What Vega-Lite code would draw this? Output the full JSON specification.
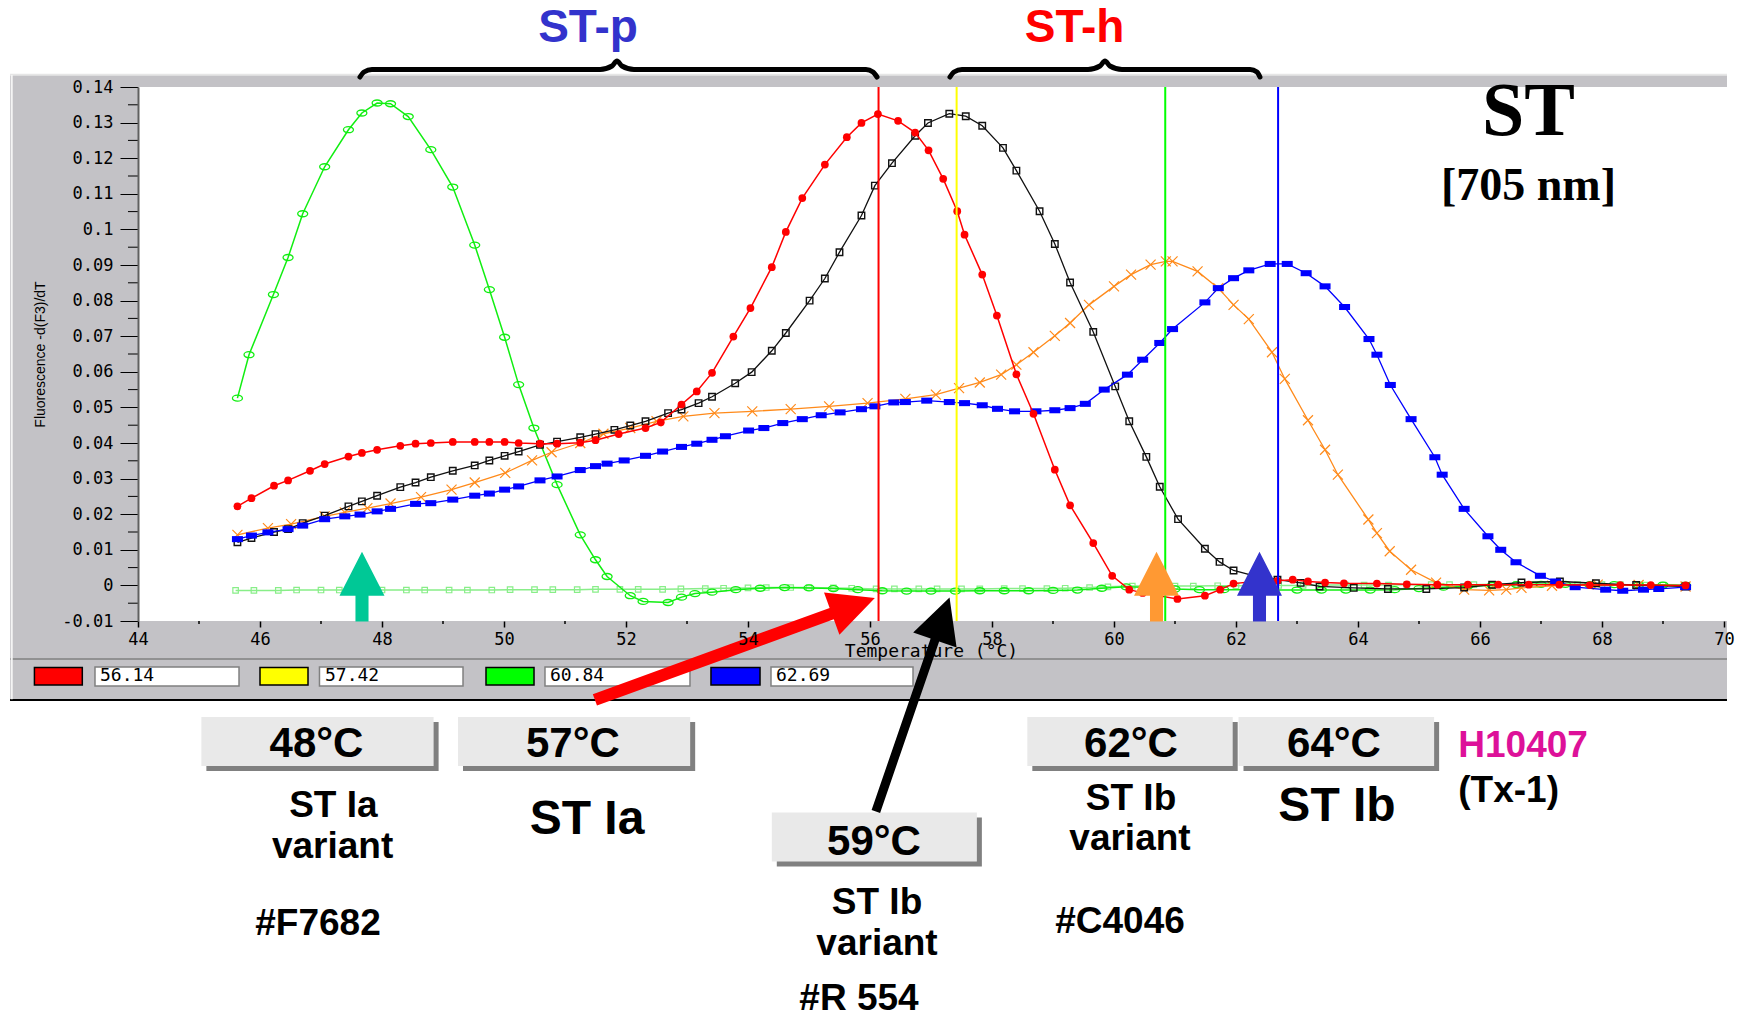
{
"$schema":"https://vega.github.io/schema/vega-lite/v6.json",
"width":1586,"height":534,
"autosize":{"type":"none"},
"padding":{"left":138,"top":87,"right":14,"bottom":396},
"background":"#ffffff",
"config":{"view":{"stroke":null}},
"datasets":{
"green":[{"t":45.63,"f":0.0526},{"t":45.82,"f":0.0648},{"t":46.22,"f":0.0817},{"t":46.46,"f":0.0921},{"t":46.7,"f":0.1044},{"t":47.06,"f":0.1176},{"t":47.45,"f":0.128},{"t":47.67,"f":0.1327},{"t":47.92,"f":0.1355},{"t":48.14,"f":0.1353},{"t":48.43,"f":0.1317},{"t":48.8,"f":0.1224},{"t":49.16,"f":0.1119},{"t":49.52,"f":0.0956},{"t":49.76,"f":0.0831},{"t":50.01,"f":0.0697},{"t":50.24,"f":0.0564},{"t":50.49,"f":0.0442},{"t":50.87,"f":0.0283},{"t":51.25,"f":0.0142},{"t":51.5,"f":0.0072},{"t":51.69,"f":0.0025},{"t":52.07,"f":-0.0029},{"t":52.28,"f":-0.0045},{"t":52.69,"f":-0.0048},{"t":52.91,"f":-0.0033},{"t":53.13,"f":-0.0023},{"t":53.41,"f":-0.0019},{"t":53.8,"f":-0.0012},{"t":54.2,"f":-0.0008},{"t":54.6,"f":-0.0006},{"t":55.0,"f":-0.0007},{"t":55.4,"f":-0.0009},{"t":55.8,"f":-0.0012},{"t":56.2,"f":-0.0015},{"t":56.6,"f":-0.0016},{"t":57.0,"f":-0.0016},{"t":57.4,"f":-0.0016},{"t":57.8,"f":-0.0015},{"t":58.2,"f":-0.0015},{"t":58.6,"f":-0.0015},{"t":59.0,"f":-0.0014},{"t":59.4,"f":-0.0013},{"t":59.8,"f":-0.0008},{"t":60.2,"f":-0.0004},{"t":60.6,"f":-0.0006},{"t":61.0,"f":-0.001},{"t":61.4,"f":-0.0012},{"t":61.8,"f":-0.0012},{"t":62.2,"f":-0.0012},{"t":62.6,"f":-0.0013},{"t":63.0,"f":-0.0013},{"t":63.4,"f":-0.0013},{"t":63.8,"f":-0.0013},{"t":64.2,"f":-0.0013},{"t":64.6,"f":-0.0012},{"t":65.0,"f":-0.0009},{"t":65.4,"f":-0.0005},{"t":65.8,"f":-0.0002},{"t":66.2,"f":0.0},{"t":66.6,"f":0.0002},{"t":67.0,"f":0.0003},{"t":67.4,"f":0.0003},{"t":67.8,"f":0.0002},{"t":68.2,"f":0.0002},{"t":68.6,"f":0.0001},{"t":69.0,"f":0.0001},{"t":69.37,"f":0.0}],
"base":[{"t":45.6,"f":-0.0014},{"t":45.9,"f":-0.0014},{"t":46.3,"f":-0.0014},{"t":46.6,"f":-0.0013},{"t":47.0,"f":-0.0013},{"t":47.3,"f":-0.0013},{"t":47.7,"f":-0.0013},{"t":48.0,"f":-0.0013},{"t":48.4,"f":-0.0013},{"t":48.7,"f":-0.0013},{"t":49.1,"f":-0.0013},{"t":49.4,"f":-0.0013},{"t":49.8,"f":-0.0013},{"t":50.1,"f":-0.0012},{"t":50.5,"f":-0.0012},{"t":50.8,"f":-0.0012},{"t":51.2,"f":-0.0012},{"t":51.5,"f":-0.0011},{"t":51.9,"f":-0.0011},{"t":52.2,"f":-0.0011},{"t":52.6,"f":-0.0011},{"t":52.9,"f":-0.001},{"t":53.3,"f":-0.0009},{"t":53.6,"f":-0.0008},{"t":54.0,"f":-0.0007},{"t":54.3,"f":-0.0006},{"t":54.7,"f":-0.0006},{"t":55.0,"f":-0.0006},{"t":55.4,"f":-0.0007},{"t":55.7,"f":-0.0008},{"t":56.1,"f":-0.001},{"t":56.4,"f":-0.001},{"t":56.8,"f":-0.001},{"t":57.1,"f":-0.001},{"t":57.5,"f":-0.001},{"t":57.8,"f":-0.001},{"t":58.2,"f":-0.0009},{"t":58.5,"f":-0.0009},{"t":58.9,"f":-0.0009},{"t":59.2,"f":-0.0008},{"t":59.6,"f":-0.0006},{"t":59.9,"f":-0.0004},{"t":60.3,"f":-0.0002},{"t":60.6,"f":-0.0002},{"t":61.0,"f":-0.0002},{"t":61.3,"f":-0.0002},{"t":61.7,"f":-0.0001},{"t":62.0,"f":-0.0001},{"t":62.4,"f":0.0},{"t":62.7,"f":0.0},{"t":63.1,"f":0.0},{"t":63.4,"f":0.0001},{"t":63.8,"f":0.0001},{"t":64.1,"f":0.0001},{"t":64.5,"f":0.0001},{"t":64.8,"f":0.0002},{"t":65.2,"f":0.0002},{"t":65.5,"f":0.0002},{"t":65.9,"f":0.0002},{"t":66.2,"f":0.0003},{"t":66.6,"f":0.0003},{"t":66.9,"f":0.0003},{"t":67.3,"f":0.0003},{"t":67.6,"f":0.0002},{"t":68.0,"f":0.0002},{"t":68.3,"f":0.0002},{"t":68.7,"f":0.0001},{"t":69.0,"f":0.0001},{"t":69.35,"f":0.0001}],
"red":[{"t":45.63,"f":0.0222},{"t":45.86,"f":0.0245},{"t":46.23,"f":0.028},{"t":46.46,"f":0.0295},{"t":46.82,"f":0.0322},{"t":47.06,"f":0.0341},{"t":47.45,"f":0.0362},{"t":47.67,"f":0.0372},{"t":47.92,"f":0.0381},{"t":48.3,"f":0.0392},{"t":48.55,"f":0.0398},{"t":48.8,"f":0.04},{"t":49.16,"f":0.0403},{"t":49.52,"f":0.0403},{"t":49.76,"f":0.0403},{"t":50.01,"f":0.0403},{"t":50.24,"f":0.04},{"t":50.59,"f":0.0398},{"t":50.87,"f":0.0398},{"t":51.25,"f":0.0401},{"t":51.5,"f":0.0408},{"t":51.88,"f":0.0425},{"t":52.32,"f":0.0442},{"t":52.57,"f":0.0458},{"t":52.91,"f":0.0508},{"t":53.16,"f":0.0545},{"t":53.41,"f":0.0597},{"t":53.76,"f":0.0699},{"t":54.04,"f":0.0779},{"t":54.39,"f":0.0894},{"t":54.62,"f":0.0993},{"t":54.89,"f":0.1088},{"t":55.26,"f":0.1182},{"t":55.62,"f":0.1259},{"t":55.86,"f":0.1299},{"t":56.13,"f":0.1324},{"t":56.46,"f":0.1305},{"t":56.74,"f":0.1272},{"t":56.96,"f":0.1222},{"t":57.2,"f":0.1142},{"t":57.43,"f":0.1051},{"t":57.55,"f":0.0985},{"t":57.84,"f":0.0873},{"t":58.08,"f":0.0758},{"t":58.4,"f":0.0593},{"t":58.68,"f":0.0482},{"t":59.03,"f":0.0325},{"t":59.28,"f":0.0225},{"t":59.66,"f":0.0119},{"t":59.97,"f":0.0027},{"t":60.25,"f":-0.0012},{"t":60.47,"f":-0.0021},{"t":61.04,"f":-0.0038},{"t":61.49,"f":-0.0029},{"t":61.74,"f":-0.0012},{"t":61.96,"f":0.0005},{"t":62.3,"f":0.0011},{"t":62.68,"f":0.0013},{"t":62.93,"f":0.0016},{"t":63.18,"f":0.0011},{"t":63.46,"f":0.0008},{"t":63.77,"f":0.0006},{"t":64.31,"f":0.0005},{"t":64.8,"f":0.0003},{"t":65.3,"f":0.0002},{"t":65.8,"f":0.0002},{"t":66.3,"f":0.0002},{"t":66.8,"f":0.0002},{"t":67.3,"f":0.0002},{"t":67.8,"f":0.0001},{"t":68.3,"f":0.0001},{"t":68.8,"f":0.0001},{"t":69.37,"f":0.0}],
"black":[{"t":45.63,"f":0.0121},{"t":45.86,"f":0.0133},{"t":46.23,"f":0.015},{"t":46.46,"f":0.0158},{"t":46.7,"f":0.0175},{"t":47.06,"f":0.0196},{"t":47.45,"f":0.0222},{"t":47.67,"f":0.0236},{"t":47.92,"f":0.0252},{"t":48.3,"f":0.0276},{"t":48.55,"f":0.0289},{"t":48.8,"f":0.0304},{"t":49.16,"f":0.0322},{"t":49.52,"f":0.0337},{"t":49.76,"f":0.0351},{"t":50.01,"f":0.0364},{"t":50.24,"f":0.0376},{"t":50.59,"f":0.0395},{"t":50.87,"f":0.0404},{"t":51.25,"f":0.0416},{"t":51.5,"f":0.0425},{"t":51.81,"f":0.0437},{"t":52.07,"f":0.0449},{"t":52.32,"f":0.0461},{"t":52.69,"f":0.0484},{"t":52.91,"f":0.0494},{"t":53.19,"f":0.0512},{"t":53.41,"f":0.053},{"t":53.79,"f":0.0568},{"t":54.06,"f":0.0599},{"t":54.39,"f":0.0659},{"t":54.62,"f":0.0709},{"t":55.01,"f":0.08},{"t":55.26,"f":0.0862},{"t":55.5,"f":0.0936},{"t":55.86,"f":0.1039},{"t":56.08,"f":0.1123},{"t":56.36,"f":0.1186},{"t":56.74,"f":0.1263},{"t":56.95,"f":0.1299},{"t":57.3,"f":0.1325},{"t":57.57,"f":0.1318},{"t":57.84,"f":0.1291},{"t":58.18,"f":0.1229},{"t":58.4,"f":0.1165},{"t":58.78,"f":0.1051},{"t":59.03,"f":0.0959},{"t":59.28,"f":0.0851},{"t":59.66,"f":0.0712},{"t":60.02,"f":0.0559},{"t":60.25,"f":0.0461},{"t":60.53,"f":0.0361},{"t":60.75,"f":0.0277},{"t":61.05,"f":0.0186},{"t":61.49,"f":0.0103},{"t":61.73,"f":0.0066},{"t":61.96,"f":0.0042},{"t":62.3,"f":0.0027},{"t":62.68,"f":0.0016},{"t":63.06,"f":0.0007},{"t":63.37,"f":-0.0003},{"t":63.93,"f":-0.0007},{"t":64.49,"f":-0.001},{"t":65.12,"f":-0.001},{"t":65.74,"f":-0.0006},{"t":66.2,"f":0.0002},{"t":66.68,"f":0.0008},{"t":67.31,"f":0.0011},{"t":67.9,"f":0.0006},{"t":68.56,"f":0.0001},{"t":69.37,"f":-0.0003}],
"orange":[{"t":45.63,"f":0.0142},{"t":46.13,"f":0.0161},{"t":46.51,"f":0.0172},{"t":47.06,"f":0.0194},{"t":47.39,"f":0.0205},{"t":47.76,"f":0.0217},{"t":48.14,"f":0.023},{"t":48.64,"f":0.0248},{"t":49.14,"f":0.0269},{"t":49.52,"f":0.0289},{"t":50.02,"f":0.0316},{"t":50.46,"f":0.0351},{"t":50.78,"f":0.0374},{"t":51.25,"f":0.04},{"t":51.63,"f":0.0426},{"t":52.07,"f":0.0442},{"t":52.5,"f":0.0461},{"t":52.94,"f":0.0475},{"t":53.45,"f":0.0484},{"t":54.07,"f":0.0489},{"t":54.7,"f":0.0495},{"t":55.33,"f":0.0503},{"t":55.96,"f":0.0512},{"t":56.58,"f":0.0524},{"t":57.08,"f":0.0536},{"t":57.46,"f":0.0554},{"t":57.8,"f":0.057},{"t":58.15,"f":0.0592},{"t":58.4,"f":0.062},{"t":58.68,"f":0.0655},{"t":59.03,"f":0.0701},{"t":59.28,"f":0.0737},{"t":59.59,"f":0.0788},{"t":60.0,"f":0.084},{"t":60.28,"f":0.0873},{"t":60.6,"f":0.0901},{"t":60.85,"f":0.091},{"t":60.96,"f":0.091},{"t":61.37,"f":0.0882},{"t":61.71,"f":0.0835},{"t":61.96,"f":0.0788},{"t":62.21,"f":0.0748},{"t":62.59,"f":0.0655},{"t":62.8,"f":0.058},{"t":63.18,"f":0.0464},{"t":63.46,"f":0.0381},{"t":63.67,"f":0.0311},{"t":64.17,"f":0.0185},{"t":64.31,"f":0.0147},{"t":64.52,"f":0.0096},{"t":64.87,"f":0.0044},{"t":65.28,"f":0.0008},{"t":65.74,"f":-0.0012},{"t":66.15,"f":-0.0014},{"t":66.43,"f":-0.0012},{"t":66.68,"f":-0.0007},{"t":67.18,"f":-0.0001},{"t":67.93,"f":0.0002},{"t":68.6,"f":0.0001},{"t":69.37,"f":-0.0003}],
"blue":[{"t":45.63,"f":0.013},{"t":45.86,"f":0.014},{"t":46.13,"f":0.0149},{"t":46.46,"f":0.0158},{"t":46.7,"f":0.0168},{"t":47.06,"f":0.0186},{"t":47.39,"f":0.0194},{"t":47.64,"f":0.0199},{"t":47.92,"f":0.0208},{"t":48.14,"f":0.0215},{"t":48.55,"f":0.0229},{"t":48.8,"f":0.0231},{"t":49.16,"f":0.0241},{"t":49.52,"f":0.0252},{"t":49.76,"f":0.0258},{"t":50.01,"f":0.0269},{"t":50.24,"f":0.0278},{"t":50.59,"f":0.0295},{"t":50.87,"f":0.0306},{"t":51.25,"f":0.0324},{"t":51.5,"f":0.0335},{"t":51.69,"f":0.0342},{"t":51.97,"f":0.0351},{"t":52.32,"f":0.0364},{"t":52.6,"f":0.0376},{"t":52.91,"f":0.0389},{"t":53.16,"f":0.0398},{"t":53.41,"f":0.0409},{"t":53.63,"f":0.0419},{"t":54.01,"f":0.0435},{"t":54.26,"f":0.0442},{"t":54.57,"f":0.0456},{"t":54.89,"f":0.0467},{"t":55.2,"f":0.0478},{"t":55.51,"f":0.0486},{"t":55.86,"f":0.0495},{"t":56.08,"f":0.0503},{"t":56.39,"f":0.0514},{"t":56.58,"f":0.0515},{"t":56.93,"f":0.0519},{"t":57.3,"f":0.0515},{"t":57.55,"f":0.0512},{"t":57.84,"f":0.0506},{"t":58.09,"f":0.0496},{"t":58.37,"f":0.0489},{"t":58.72,"f":0.0489},{"t":59.03,"f":0.0492},{"t":59.28,"f":0.0498},{"t":59.53,"f":0.051},{"t":59.84,"f":0.055},{"t":60.22,"f":0.0592},{"t":60.47,"f":0.0634},{"t":60.75,"f":0.0681},{"t":60.96,"f":0.072},{"t":61.49,"f":0.0795},{"t":61.71,"f":0.0835},{"t":61.96,"f":0.0863},{"t":62.21,"f":0.0885},{"t":62.56,"f":0.0903},{"t":62.84,"f":0.0903},{"t":63.15,"f":0.0877},{"t":63.46,"f":0.084},{"t":63.78,"f":0.0782},{"t":64.18,"f":0.0692},{"t":64.31,"f":0.0648},{"t":64.53,"f":0.0563},{"t":64.87,"f":0.0467},{"t":65.26,"f":0.036},{"t":65.38,"f":0.0311},{"t":65.74,"f":0.0215},{"t":66.13,"f":0.0138},{"t":66.34,"f":0.01},{"t":66.59,"f":0.0065},{"t":66.99,"f":0.0027},{"t":67.24,"f":0.0011},{"t":67.56,"f":-0.0005},{"t":68.06,"f":-0.0012},{"t":68.34,"f":-0.0015},{"t":68.68,"f":-0.0012},{"t":68.93,"f":-0.001},{"t":69.37,"f":-0.0005}],
"tms":[{"tm":56.14,"t":42.302,"t2":43.087,"tb":43.295,"tb2":45.656,"tl":43.377,"f":-0.02306},{"tm":57.42,"t":46.0,"t2":46.787,"tb":46.975,"tb2":49.328,"tl":47.066,"f":-0.02306},{"tm":60.84,"t":49.705,"t2":50.492,"tb":50.672,"tb2":53.049,"tl":50.754,"f":-0.02306},{"tm":62.69,"t":53.393,"t2":54.197,"tb":54.377,"tb2":56.705,"tl":54.459,"f":-0.02306}],
"boxes":[{"t":45.039,"t2":48.846,"f":-0.03694,"f2":-0.0507},{"t":49.246,"t2":53.052,"f":-0.03694,"f2":-0.0507},{"t":54.39,"t2":57.752,"f":-0.06379,"f2":-0.07756},{"t":58.579,"t2":61.946,"f":-0.03694,"f2":-0.0507},{"t":62.041,"t2":65.248,"f":-0.03694,"f2":-0.0507}],
"braces":[{"b":"p","t":47.639,"f":0.14281},{"b":"p","t":47.705,"f":0.14421},{"b":"p","t":47.836,"f":0.14492},{"b":"p","t":51.574,"f":0.14492},{"b":"p","t":51.77,"f":0.1459},{"b":"p","t":51.852,"f":0.1473},{"b":"p","t":51.934,"f":0.1459},{"b":"p","t":52.131,"f":0.14492},{"b":"p","t":55.934,"f":0.14492},{"b":"p","t":56.049,"f":0.14421},{"b":"p","t":56.115,"f":0.14281},{"b":"h","t":57.311,"f":0.14281},{"b":"h","t":57.377,"f":0.14421},{"b":"h","t":57.508,"f":0.14492},{"b":"h","t":59.574,"f":0.14492},{"b":"h","t":59.77,"f":0.1459},{"b":"h","t":59.852,"f":0.1473},{"b":"h","t":59.934,"f":0.1459},{"b":"h","t":60.131,"f":0.14492},{"b":"h","t":62.23,"f":0.14492},{"b":"h","t":62.344,"f":0.14421},{"b":"h","t":62.393,"f":0.14281}]
},
"encoding":{
"x":{"field":"t","type":"quantitative","scale":{"domain":[44,70],"nice":false,"zero":false},
"axis":{"title":"Temperature (°C)","values":[44,46,48,50,52,54,56,58,60,62,64,66,68,70],"labelExpr":"'' + datum.value","labelFlush":false,"labelOverlap":false,"labelFont":"DejaVu Sans Mono","labelFontSize":17,"labelColor":"#000000","labelPadding":4,"tickColor":"#000000","tickSize":6,"tickWidth":1.5,"domain":false,"grid":false,"titleFont":"DejaVu Sans Mono","titleFontSize":18,"titleFontWeight":"normal","titleColor":"#000000","titlePadding":-5,"zindex":1}},
"y":{"field":"f","type":"quantitative","scale":{"domain":[-0.01,0.14],"nice":false,"zero":false},
"axis":{"title":"Fluorescence -d(F3)/dT","values":[-0.01,0,0.01,0.02,0.03,0.04,0.05,0.06,0.07,0.08,0.09,0.1,0.11,0.12,0.13,0.14],"labelExpr":"'' + round(datum.value*100)/100","labelFlush":false,"labelOverlap":false,"labelFont":"DejaVu Sans Mono","labelFontSize":17,"labelColor":"#000000","labelPadding":7,"tickColor":"#000000","tickSize":18,"tickWidth":1,"domain":true,"domainColor":"#606060","domainWidth":2,"grid":false,"titleFont":"Liberation Sans Narrow, Liberation Sans, sans-serif","titleFontSize":14,"titleFontWeight":"normal","titleColor":"#000000","titlePadding":14,"zindex":1}}
},
"layer":[
{"data":{"values":[{"t":41.902,"t2":70.049,"f":0.14346,"f2":-0.03219}]},"mark":{"type":"rect","color":"#c3c2c6"},"encoding":{"x2":{"field":"t2"},"y2":{"field":"f2"}}},
{"data":{"values":[{"t":44,"t2":70.049,"f":0.14,"f2":-0.01}]},"mark":{"type":"rect","color":"#ffffff"},"encoding":{"x2":{"field":"t2"},"y2":{"field":"f2"}}},
{"data":{"values":[{"t":41.902,"t2":70.049,"f":0.14346}]},"mark":{"type":"rule","color":"#e6e6e6","strokeWidth":2},"encoding":{"x2":{"field":"t2"}}},
{"data":{"values":[{"t":41.902,"t2":70.049,"f":-0.02067}]},"mark":{"type":"rule","color":"#808080","strokeWidth":1.5},"encoding":{"x2":{"field":"t2"}}},
{"data":{"values":[{"t":41.902,"t2":70.049,"f":-0.03219}]},"mark":{"type":"rule","color":"#000000","strokeWidth":2},"encoding":{"x2":{"field":"t2"}}},
{"data":{"values":[{"t":41.93,"f":0.1434,"f2":-0.032}]},"mark":{"type":"rule","color":"#f4f4f4","strokeWidth":2},"encoding":{"y2":{"field":"f2"}}},
{"data":{"values":[{"t":43.836,"t2":44,"f":-0.005},{"t":43.836,"t2":44,"f":0.005},{"t":43.836,"t2":44,"f":0.015},{"t":43.836,"t2":44,"f":0.025},{"t":43.836,"t2":44,"f":0.035},{"t":43.836,"t2":44,"f":0.045},{"t":43.836,"t2":44,"f":0.055},{"t":43.836,"t2":44,"f":0.065},{"t":43.836,"t2":44,"f":0.075},{"t":43.836,"t2":44,"f":0.085},{"t":43.836,"t2":44,"f":0.095},{"t":43.836,"t2":44,"f":0.105},{"t":43.836,"t2":44,"f":0.115},{"t":43.836,"t2":44,"f":0.125},{"t":43.836,"t2":44,"f":0.135}]},"mark":{"type":"rule","color":"#000000","strokeWidth":1},"encoding":{"x2":{"field":"t2"}}},
{"data":{"values":[{"t":45,"f":-0.01,"f2":-0.01084},{"t":47,"f":-0.01,"f2":-0.01084},{"t":49,"f":-0.01,"f2":-0.01084},{"t":51,"f":-0.01,"f2":-0.01084},{"t":53,"f":-0.01,"f2":-0.01084},{"t":55,"f":-0.01,"f2":-0.01084},{"t":57,"f":-0.01,"f2":-0.01084},{"t":59,"f":-0.01,"f2":-0.01084},{"t":61,"f":-0.01,"f2":-0.01084},{"t":63,"f":-0.01,"f2":-0.01084},{"t":65,"f":-0.01,"f2":-0.01084},{"t":67,"f":-0.01,"f2":-0.01084},{"t":69,"f":-0.01,"f2":-0.01084}]},"mark":{"type":"rule","color":"#000000","strokeWidth":1.5},"encoding":{"y2":{"field":"f2"}}},
{"data":{"name":"tms"},"mark":{"type":"rect","stroke":"#000000","strokeWidth":1.5},"encoding":{"x":{"field":"t","type":"quantitative"},"x2":{"field":"t2"},"y":{"datum":-0.02306},"y2":{"datum":-0.02798},"color":{"field":"tm","type":"nominal","scale":{"domain":[56.14,57.42,60.84,62.69],"range":["#ff0000","#ffff00","#00ff00","#0000ff"]},"legend":null}}},
{"data":{"name":"tms"},"mark":{"type":"rect","fill":"#ffffff","stroke":"#808080","strokeWidth":1.5},"encoding":{"x":{"field":"tb","type":"quantitative"},"x2":{"field":"tb2"},"y":{"datum":-0.02292},"y2":{"datum":-0.02826}}},
{"data":{"name":"tms"},"mark":{"type":"text","align":"left","baseline":"alphabetic","font":"DejaVu Sans Mono","fontSize":18,"color":"#000000"},"encoding":{"x":{"field":"tl","type":"quantitative"},"y":{"datum":-0.02677},"text":{"field":"tm","type":"quantitative","format":".2f"}}},
{"data":{"name":"base"},"mark":{"type":"line","color":"#88ee88","strokeWidth":1.5,"point":{"shape":"square","filled":false,"size":30,"strokeWidth":1.2,"color":"#88ee88","opacity":1}}},
{"data":{"name":"green"},"mark":{"type":"line","color":"#11ee11","strokeWidth":1.5,"point":{"shape":"M-1,0A1,0.6,0,1,0,1,0A1,0.6,0,1,0,-1,0Z","filled":false,"size":100,"strokeWidth":1.3,"color":"#11ee11","opacity":1}}},
{"data":{"name":"orange"},"mark":{"type":"line","color":"#ff8a1a","strokeWidth":1.3,"point":{"shape":"M-1,-1L1,1M-1,1L1,-1","filled":false,"size":100,"strokeWidth":1.2,"color":"#ff8a1a","opacity":1}}},
{"data":{"name":"black"},"mark":{"type":"line","color":"#111111","strokeWidth":1.3,"point":{"shape":"square","filled":false,"size":42,"strokeWidth":1.4,"color":"#111111","opacity":1}}},
{"data":{"name":"blue"},"mark":{"type":"line","color":"#0000ff","strokeWidth":1.3,"point":{"shape":"M-1,-0.55H1V0.55H-1Z","filled":true,"size":121,"color":"#0000ff","opacity":1}}},
{"data":{"name":"red"},"mark":{"type":"line","color":"#ff0000","strokeWidth":1.5,"point":{"shape":"circle","filled":true,"size":60,"color":"#ff0000","opacity":1}}},
{"data":{"name":"tms"},"mark":{"type":"rule","strokeWidth":2},"encoding":{"x":{"field":"tm","type":"quantitative"},"y":{"datum":0.14},"y2":{"datum":-0.01},"color":{"field":"tm","type":"nominal","scale":{"domain":[56.14,57.42,60.84,62.69],"range":["#ff0000","#ffff00","#00ff00","#0000ff"]},"legend":null}}},
{"data":{"name":"braces"},"mark":{"type":"line","color":"#000000","strokeWidth":5,"interpolate":"monotone","strokeCap":"round","strokeJoin":"round"},"encoding":{"detail":{"field":"b"}}},
{"data":{"values":[{"t":51.377,"f":0.15264,"label":"ST-p"}]},"mark":{"type":"text","align":"center","baseline":"alphabetic","font":"Liberation Sans","fontSize":46,"fontWeight":"bold","color":"#3333cc"},"encoding":{"text":{"field":"label"}}},
{"data":{"values":[{"t":59.354,"f":0.15264,"label":"ST-h"}]},"mark":{"type":"text","align":"center","baseline":"alphabetic","font":"Liberation Sans","fontSize":46,"fontWeight":"bold","color":"#ff0000"},"encoding":{"text":{"field":"label"}}},
{"data":{"values":[{"t":66.795,"f":0.12652,"label":"ST"}]},"mark":{"type":"text","align":"center","baseline":"alphabetic","font":"Liberation Serif","fontSize":76,"fontWeight":"bold","color":"#000000"},"encoding":{"text":{"field":"label"}}},
{"data":{"values":[{"t":66.794,"f":0.10826,"label":"[705 nm]"}]},"mark":{"type":"text","align":"center","baseline":"alphabetic","font":"Liberation Serif","fontSize":46,"fontWeight":"bold","color":"#000000"},"encoding":{"text":{"field":"label"}}},
{"data":{"name":"boxes"},"mark":{"type":"rect","color":"#808080","xOffset":5,"x2Offset":5,"yOffset":5,"y2Offset":5},"encoding":{"x2":{"field":"t2"},"y2":{"field":"f2"}}},
{"data":{"name":"boxes"},"mark":{"type":"rect","color":"#e9e9e9"},"encoding":{"x2":{"field":"t2"},"y2":{"field":"f2"}}},
{"data":{"values":[{"t":46.926,"f":-0.0482,"label":"48°C"},{"t":51.13,"f":-0.0482,"label":"57°C"},{"t":56.066,"f":-0.07565,"label":"59°C"},{"t":60.279,"f":-0.0482,"label":"62°C"},{"t":63.607,"f":-0.0482,"label":"64°C"}]},"mark":{"type":"text","align":"center","baseline":"alphabetic","font":"Liberation Sans","fontSize":42,"fontWeight":"bold","color":"#000000"},"encoding":{"text":{"field":"label"}}},
{"data":{"values":[{"t":47.203,"f":-0.06494,"label":"ST Ia"},{"t":47.19,"f":-0.07657,"label":"variant"},{"t":46.951,"f":-0.09815,"label":"#F7682"},{"t":56.115,"f":-0.09244,"label":"ST Ib"},{"t":56.115,"f":-0.10382,"label":"variant"},{"t":55.82,"f":-0.1192,"label":"#R 554"},{"t":60.279,"f":-0.06303,"label":"ST Ib"},{"t":60.262,"f":-0.07433,"label":"variant"},{"t":60.098,"f":-0.09772,"label":"#C4046"}]},"mark":{"type":"text","align":"center","baseline":"alphabetic","font":"Liberation Sans","fontSize":37,"fontWeight":"bold","color":"#000000"},"encoding":{"text":{"field":"label"}}},
{"data":{"values":[{"t":51.361,"f":-0.06997,"label":"ST Ia"},{"t":63.656,"f":-0.0661,"label":"ST Ib"}]},"mark":{"type":"text","align":"center","baseline":"alphabetic","font":"Liberation Sans","fontSize":48,"fontWeight":"bold","color":"#000000"},"encoding":{"text":{"field":"label"}}},
{"data":{"values":[{"t":65.644,"f":-0.04829,"label":"H10407"}]},"mark":{"type":"text","align":"left","baseline":"alphabetic","font":"Liberation Sans","fontSize":37,"fontWeight":"bold","color":"#dd1199"},"encoding":{"text":{"field":"label"}}},
{"data":{"values":[{"t":65.644,"f":-0.06076,"label":"(Tx-1)"}]},"mark":{"type":"text","align":"left","baseline":"alphabetic","font":"Liberation Sans","fontSize":37,"fontWeight":"bold","color":"#000000"},"encoding":{"text":{"field":"label"}}},
{"data":{"values":[{"t":47.672,"f":-0.00037}]},"mark":{"type":"point","shape":"M0,-1.55L1,0.4L0.29,0.4L0.29,1.55L-0.29,1.55L-0.29,0.4L-1,0.4Z","size":2025,"filled":true,"color":"#00c896","opacity":1,"strokeWidth":0}},
{"data":{"values":[{"t":60.697,"f":-0.00037}]},"mark":{"type":"point","shape":"M0,-1.55L1,0.4L0.29,0.4L0.29,1.55L-0.29,1.55L-0.29,0.4L-1,0.4Z","size":2025,"filled":true,"color":"#ff9933","opacity":1,"strokeWidth":0}},
{"data":{"values":[{"t":62.385,"f":-0.00037}]},"mark":{"type":"point","shape":"M0,-1.55L1,0.4L0.29,0.4L0.29,1.55L-0.29,1.55L-0.29,0.4L-1,0.4Z","size":2025,"filled":true,"color":"#3333cc","opacity":1,"strokeWidth":0}},
{"data":{"values":[{"t":53.785,"f":-0.01784}]},"mark":{"type":"point","shape":"M0,-6.62L1,-4.58L0.27,-4.58L0.27,6.62L-0.27,6.62L-0.27,-4.58L-1,-4.58Z","size":2025,"angle":70,"filled":true,"color":"#ff0000","opacity":1,"strokeWidth":0}},
{"data":{"values":[{"t":56.7,"f":-0.03343}]},"mark":{"type":"point","shape":"M0,-5.03L1.02,-3.03L0.2,-3.03L0.2,5.03L-0.2,5.03L-0.2,-3.03L-1.02,-3.03Z","size":2025,"angle":19,"filled":true,"color":"#000000","opacity":1,"strokeWidth":0}}
]
}
